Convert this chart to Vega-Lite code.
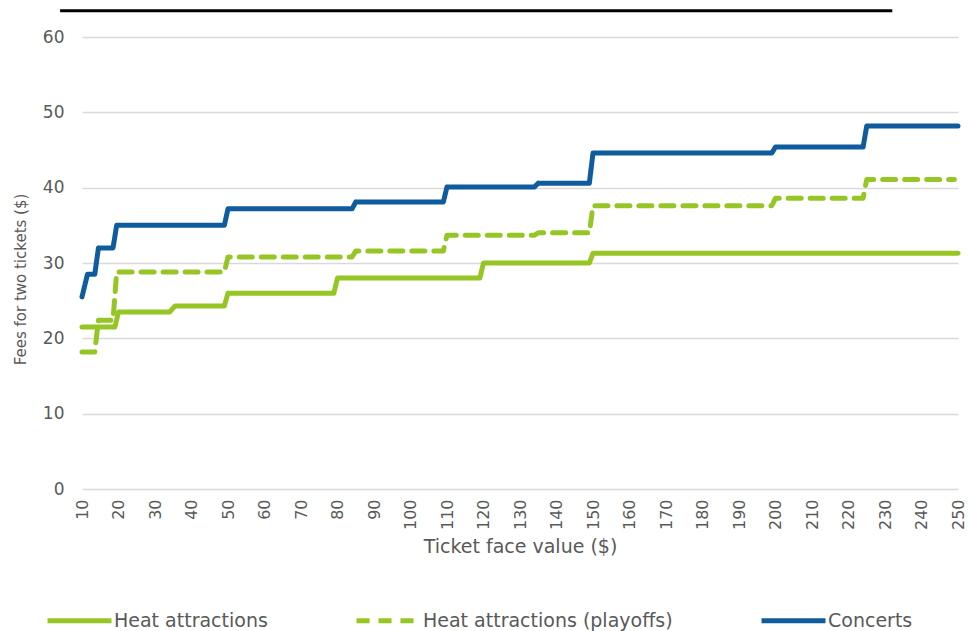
{
  "$schema": "https://vega.github.io/schema/vega-lite/v6.json",
  "width": 876,
  "height": 452,
  "autosize": "none",
  "padding": {"left": 82, "top": 37, "right": 11, "bottom": 142},
  "background": "white",
  "config": {
    "view": {"stroke": null},
    "font": "DejaVu Sans",
    "axisX": {
      "labelAngle": 270,
      "labelFontSize": 16,
      "labelColor": "#595959",
      "labelPadding": 10,
      "labelFlush": false,
      "labelOverlap": false,
      "labelBound": false,
      "domain": false,
      "ticks": false,
      "grid": false,
      "titleFontSize": 19,
      "titleFontWeight": "normal",
      "titleColor": "#595959",
      "titlePadding": 8
    },
    "axisY": {
      "labelFontSize": 17,
      "labelColor": "#595959",
      "labelPadding": 18,
      "domain": false,
      "ticks": false,
      "grid": true,
      "gridColor": "#d9d9d9",
      "gridWidth": 1.5,
      "titleFontSize": 15,
      "titleFontWeight": "normal",
      "titleColor": "#595959",
      "titlePadding": 14
    }
  },
  "datasets": {
    "series": [
      {"series": "Heat attractions", "face": 10, "fee": 21.5},
      {"series": "Heat attractions", "face": 19, "fee": 21.5},
      {"series": "Heat attractions", "face": 20, "fee": 23.5},
      {"series": "Heat attractions", "face": 34, "fee": 23.5},
      {"series": "Heat attractions", "face": 35.5, "fee": 24.3},
      {"series": "Heat attractions", "face": 49, "fee": 24.3},
      {"series": "Heat attractions", "face": 50, "fee": 26.0},
      {"series": "Heat attractions", "face": 79, "fee": 26.0},
      {"series": "Heat attractions", "face": 80, "fee": 28.0},
      {"series": "Heat attractions", "face": 119, "fee": 28.0},
      {"series": "Heat attractions", "face": 120, "fee": 30.0},
      {"series": "Heat attractions", "face": 149, "fee": 30.0},
      {"series": "Heat attractions", "face": 150, "fee": 31.3},
      {"series": "Heat attractions", "face": 250, "fee": 31.3},
      {"series": "Heat attractions (playoffs)", "face": 10, "fee": 18.2},
      {"series": "Heat attractions (playoffs)", "face": 13.5, "fee": 18.2},
      {"series": "Heat attractions (playoffs)", "face": 14.5, "fee": 22.4},
      {"series": "Heat attractions (playoffs)", "face": 18.5, "fee": 22.4},
      {"series": "Heat attractions (playoffs)", "face": 19.5, "fee": 28.8},
      {"series": "Heat attractions (playoffs)", "face": 49, "fee": 28.8},
      {"series": "Heat attractions (playoffs)", "face": 50, "fee": 30.8},
      {"series": "Heat attractions (playoffs)", "face": 84, "fee": 30.8},
      {"series": "Heat attractions (playoffs)", "face": 85, "fee": 31.6},
      {"series": "Heat attractions (playoffs)", "face": 109, "fee": 31.6},
      {"series": "Heat attractions (playoffs)", "face": 110, "fee": 33.7},
      {"series": "Heat attractions (playoffs)", "face": 134, "fee": 33.7},
      {"series": "Heat attractions (playoffs)", "face": 135, "fee": 34.0},
      {"series": "Heat attractions (playoffs)", "face": 149, "fee": 34.0},
      {"series": "Heat attractions (playoffs)", "face": 150, "fee": 37.6},
      {"series": "Heat attractions (playoffs)", "face": 199, "fee": 37.6},
      {"series": "Heat attractions (playoffs)", "face": 200, "fee": 38.6},
      {"series": "Heat attractions (playoffs)", "face": 224, "fee": 38.6},
      {"series": "Heat attractions (playoffs)", "face": 225, "fee": 41.1},
      {"series": "Heat attractions (playoffs)", "face": 249, "fee": 41.1},
      {"series": "Concerts", "face": 10, "fee": 25.5},
      {"series": "Concerts", "face": 11.5, "fee": 28.5},
      {"series": "Concerts", "face": 13.5, "fee": 28.5},
      {"series": "Concerts", "face": 14.5, "fee": 32.0},
      {"series": "Concerts", "face": 18.5, "fee": 32.0},
      {"series": "Concerts", "face": 19.5, "fee": 35.0},
      {"series": "Concerts", "face": 49, "fee": 35.0},
      {"series": "Concerts", "face": 50, "fee": 37.2},
      {"series": "Concerts", "face": 84, "fee": 37.2},
      {"series": "Concerts", "face": 85, "fee": 38.1},
      {"series": "Concerts", "face": 109, "fee": 38.1},
      {"series": "Concerts", "face": 110, "fee": 40.1},
      {"series": "Concerts", "face": 134, "fee": 40.1},
      {"series": "Concerts", "face": 135, "fee": 40.6},
      {"series": "Concerts", "face": 149, "fee": 40.6},
      {"series": "Concerts", "face": 150, "fee": 44.6},
      {"series": "Concerts", "face": 199, "fee": 44.6},
      {"series": "Concerts", "face": 200, "fee": 45.4},
      {"series": "Concerts", "face": 224, "fee": 45.4},
      {"series": "Concerts", "face": 225, "fee": 48.2},
      {"series": "Concerts", "face": 250, "fee": 48.2}
    ],
    "border": [
      {"face": 4, "face2": 232, "fee": 63.5}
    ]
  },
  "resolve": {"axis": {"x": "independent", "y": "independent"}},
  "layer": [
    {
      "data": {"name": "series"},
      "mark": {"type": "line", "strokeWidth": 5, "strokeCap": "round", "strokeJoin": "round"},
      "encoding": {
        "x": {
          "field": "face",
          "type": "quantitative",
          "scale": {"domain": [10, 250], "nice": false, "zero": false},
          "axis": {
            "title": "Ticket face value  ($)",
            "values": [10,20,30,40,50,60,70,80,90,100,110,120,130,140,150,160,170,180,190,200,210,220,230,240,250],
            "labelOverlap": false,
            "labelBound": false
          }
        },
        "y": {
          "field": "fee",
          "type": "quantitative",
          "scale": {"domain": [0, 60], "nice": false},
          "axis": {
            "title": "Fees for two tickets ($)",
            "values": [0,10,20,30,40,50,60],
            "titleY": 242
          }
        },
        "color": {
          "field": "series",
          "type": "nominal",
          "scale": {
            "domain": ["Heat attractions", "Heat attractions (playoffs)", "Concerts"],
            "range": ["#95C623", "#95C623", "#0E5C9E"]
          },
          "legend": {
            "title": null,
            "orient": "none",
            "legendX": -37,
            "legendY": 549,
            "direction": "horizontal",
            "symbolType": "stroke",
            "symbolSize": 4096,
            "symbolStrokeWidth": 5,
            "labelFontSize": 19,
            "labelColor": "#595959",
            "labelOffset": 0,
            "columnPadding": 78,
            "labelLimit": 400
          }
        },
        "strokeDash": {
          "field": "series",
          "type": "nominal",
          "scale": {
            "domain": ["Heat attractions", "Heat attractions (playoffs)", "Concerts"],
            "range": [[1, 0], [13, 9], [1, 0]]
          },
          "legend": null
        }
      }
    },
    {
      "data": {"name": "border"},
      "mark": {"type": "rule", "color": "black", "strokeWidth": 3, "clip": false},
      "encoding": {
        "x": {"field": "face", "type": "quantitative", "axis": null},
        "x2": {"field": "face2"},
        "y": {"field": "fee", "type": "quantitative", "axis": null}
      }
    }
  ]
}
